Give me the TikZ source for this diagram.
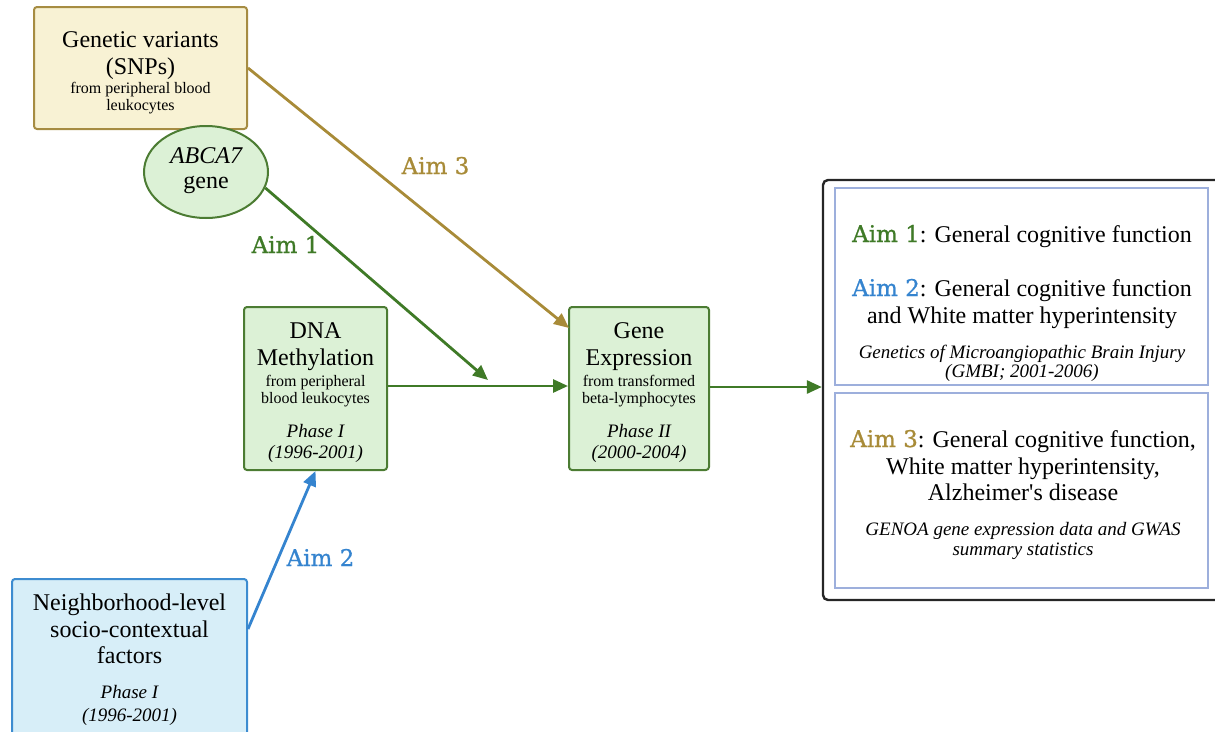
\documentclass[tikz,border=0pt]{standalone}
\usepackage{fontspec}
\setmainfont{Liberation Serif}
\newfontface\aimfont[FakeBold=0.9]{DejaVu Serif}
\usetikzlibrary{arrows.meta,shapes.geometric,calc}
\definecolor{yfill}{HTML}{F8F2D4}
\definecolor{ydraw}{HTML}{A68C42}
\definecolor{gfill}{HTML}{DCF1D6}
\definecolor{gdraw}{HTML}{4C7C33}
\definecolor{bfill}{HTML}{D7EEF8}
\definecolor{bdraw}{HTML}{3D8CD0}
\definecolor{garrow}{HTML}{3F7A27}
\definecolor{yarrow}{HTML}{A88B38}
\definecolor{barrow}{HTML}{3584CF}
\definecolor{inner}{HTML}{9DAFDC}
\tikzset{
  boxbase/.style={draw, line width=2pt, rounded corners=3pt, inner sep=0pt},
  big/.style={anchor=base, inner sep=0pt, font=\fontsize{24}{27}\selectfont},
  small/.style={anchor=base, inner sep=0pt, font=\fontsize{16}{18}\selectfont},
  ital/.style={anchor=base, inner sep=0pt, font=\fontsize{19}{22}\selectfont\itshape},
  aimlabel/.style={anchor=base, inner sep=0pt, font=\fontsize{23}{26}\selectfont\aimfont},
  arr/.style={line width=2.8pt, -{Triangle[length=15pt,width=13pt]}},
}
\begin{document}
\begin{tikzpicture}[x=1pt,y=-1pt]
\useasboundingbox (0,0) rectangle (1215,731);
% boxes
\node[boxbase, fill=yfill, draw=ydraw, minimum width=213pt, minimum height=122pt] (yb) at (140.5,68) {};
\node[boxbase, fill=gfill, draw=gdraw, minimum width=143pt, minimum height=163pt] (dna) at (315.5,388.5) {};
\node[boxbase, fill=gfill, draw=gdraw, minimum width=140pt, minimum height=163pt] (ge) at (639,388.5) {};
\node[boxbase, fill=bfill, draw=bdraw, minimum width=235pt, minimum height=160pt] (nb) at (129.5,659) {};
\node[ellipse, draw=gdraw, fill=gfill, line width=2pt, minimum width=124pt, minimum height=92pt, inner sep=0pt] (ell) at (206,172) {};
\node[draw=black!85, line width=2.4pt, rounded corners=5pt, minimum width=400pt, minimum height=420pt, inner sep=0pt] (outer) at (1023,390) {};
\node[draw=inner, line width=1.6pt, minimum width=373pt, minimum height=197pt, inner sep=0pt] (in1) at (1021.5,286.5) {};
\node[draw=inner, line width=1.6pt, minimum width=373pt, minimum height=195pt, inner sep=0pt] (in2) at (1021.5,490.5) {};

% texts: genetic variants
\node[big] (t1) at (140.5,47) {Genetic variants};
\node[big] (t2) at (140.5,74) {(SNPs)};
\node[small] (t3) at (140.5,93) {from peripheral blood};
\node[small] (t4) at (140.5,110.5) {leukocytes};
% ellipse
\node[big, font=\fontsize{24}{27}\selectfont\itshape] (t5) at (206,163) {ABCA7};
\node[big] (t6) at (206,188) {gene};
% DNA
\node[big] (t7) at (315.5,338) {DNA};
\node[big] (t8) at (315.5,365) {Methylation};
\node[small] (t9) at (315.5,386) {from peripheral};
\node[small] (t10) at (315.5,403) {blood leukocytes};
\node[ital] (t11) at (315.5,437) {Phase I};
\node[ital] (t12) at (315.5,458) {(1996-2001)};
% gene expression
\node[big] (t13) at (639,338) {Gene};
\node[big] (t14) at (639,365) {Expression};
\node[small] (t15) at (639,386) {from transformed};
\node[small] (t16) at (639,403) {beta-lymphocytes};
\node[ital] (t17) at (639,437) {Phase II};
\node[ital] (t18) at (639,458) {(2000-2004)};
% neighborhood
\node[big] (t19) at (129.5,610) {Neighborhood-level};
\node[big] (t20) at (129.5,637) {socio-contextual};
\node[big] (t21) at (129.5,663) {factors};
\node[ital] (t22) at (129.5,698) {Phase I};
\node[ital] (t23) at (129.5,721) {(1996-2001)};
% right box
\node[big] (r1) at (1022,242) {{\fontsize{23}{26}\selectfont\aimfont\color{garrow}Aim 1}: General cognitive function};
\node[big] (r2) at (1022,296) {{\fontsize{23}{26}\selectfont\aimfont\color{barrow}Aim 2}: General cognitive function};
\node[big] (r3) at (1022,323) {and White matter hyperintensity};
\node[ital] (r4) at (1022,358) {Genetics of Microangiopathic Brain Injury};
\node[ital] (r5) at (1022,377) {(GMBI; 2001-2006)};
\node[big] (r6) at (1023,447) {{\fontsize{23}{26}\selectfont\aimfont\color{yarrow}Aim 3}: General cognitive function,};
\node[big] (r7) at (1023,474) {White matter hyperintensity,};
\node[big] (r8) at (1023,500) {Alzheimer\textquotesingle s disease};
\node[ital] (r9) at (1023,535) {GENOA gene expression data and GWAS};
\node[ital] (r10) at (1023,555) {summary statistics};

% connectors
\coordinate (a1tip) at (488,380);
\coordinate (a3tip) at (569,328);
\draw[arr, draw=yarrow, fill=yarrow] (yb.east) -- (a3tip);
\draw[arr, draw=garrow, fill=garrow] (ell.-15) -- (a1tip);
\draw[arr, draw=garrow, fill=garrow] (dna.east |- 0,386) -- (ge.west |- 0,386);
\draw[arr, draw=garrow, fill=garrow] (ge.east |- 0,387) -- (outer.west |- 0,387);
\draw[arr, draw=barrow, fill=barrow] ($(nb.north east)+(0,51)$) -- (dna.south);

% aim labels
\node[aimlabel, text=yarrow] (l3) at (435.5,174) {Aim 3};
\node[aimlabel, text=garrow] (l1) at (285.5,253) {Aim 1};
\node[aimlabel, text=barrow] (l2) at (320.5,566) {Aim 2};
\end{tikzpicture}
\end{document}
